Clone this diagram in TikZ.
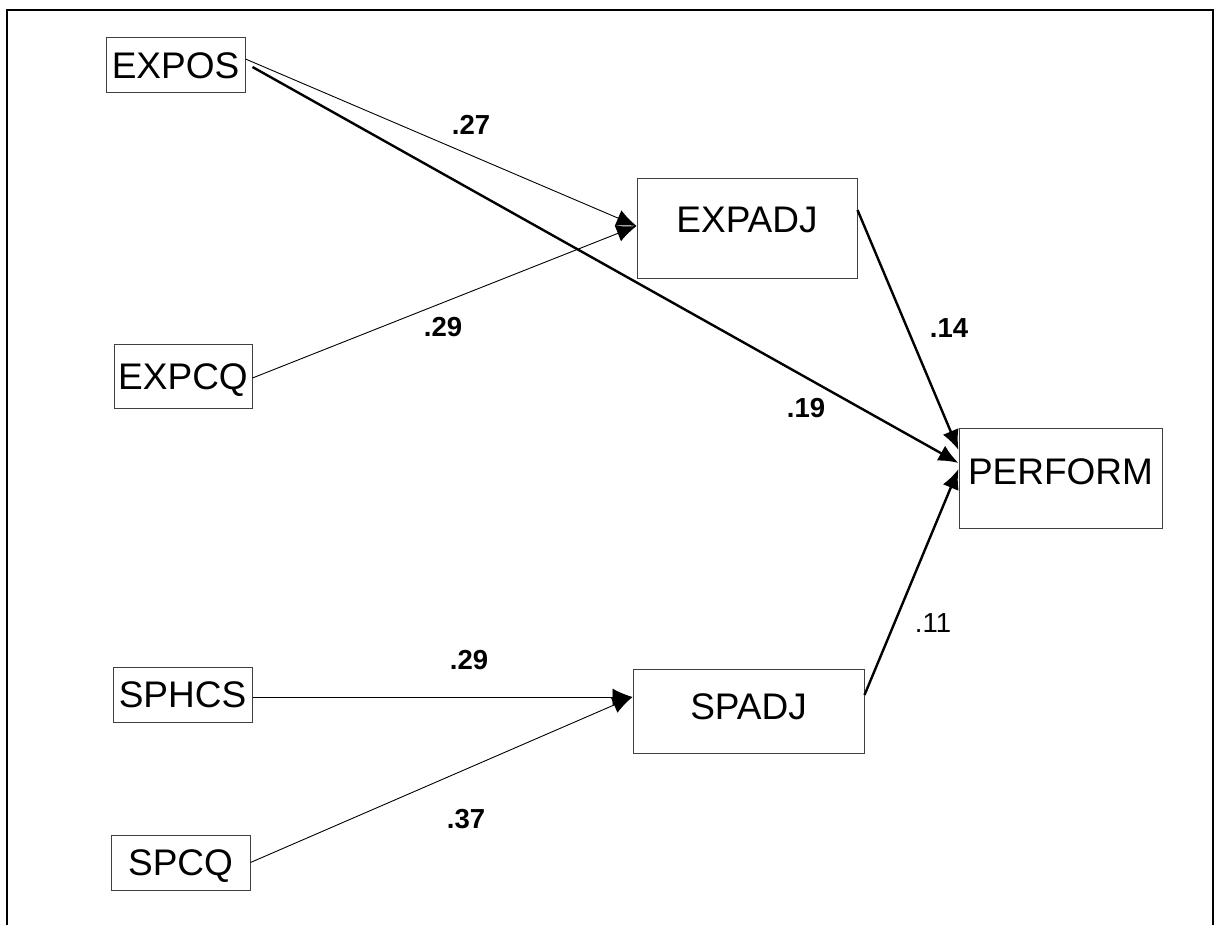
\documentclass[tikz,border=0pt]{standalone}
\usepackage{fontspec}
\setmainfont{Liberation Sans}
\usetikzlibrary{arrows.meta,calc}
\begin{document}
\begin{tikzpicture}[x=1pt,y=-1pt,
  var/.style={draw=black!75, line width=1pt, rectangle, inner sep=0pt,
    text depth=0pt, font=\fontsize{37}{40}\selectfont},
  coef/.style={inner sep=0pt, font=\fontsize{27.5}{30}\selectfont\bfseries},
  coefplain/.style={inner sep=0pt, font=\fontsize{27.5}{30}\selectfont},
  thinpath/.style={line width=0.9pt, -{Latex[length=20pt,width=17pt]}},
  thickpath/.style={line width=2.4pt, -{Latex[length=20pt,width=17pt]}}]
\useasboundingbox (0,0) rectangle (1216,925);

% open frame (no bottom edge)
\draw[line width=2.5pt] (7,925) -- (7,10) -- (1213,10) -- (1213,925);

% variables
\node[var, minimum width=139pt, minimum height=55pt] (expos) at (175.5,65.5) {EXPOS};
\node[var, minimum width=138pt, minimum height=63pt] (expcq) at (183,376.5) {EXPCQ};
\node[var, minimum width=139pt, minimum height=55pt] (sphcs) at (182.5,694.5) {SPHCS};
\node[var, minimum width=139pt, minimum height=55pt] (spcq) at (180.5,862.5) {SPCQ};
\node[var, minimum width=220pt, minimum height=100pt, text depth=18pt] (expadj) at (747,229) {EXPADJ};
\node[var, minimum width=231pt, minimum height=84pt, text depth=9pt] (spadj) at (748.5,711) {SPADJ};
\node[var, minimum width=203pt, minimum height=100pt, text depth=13pt] (perform) at (1060.5,478) {PERFORM};

% paths
\draw[thinpath] ($(expos.east)+(0,-6.5)$) -- ($(expadj.west)+(0,-3)$);
\draw[thinpath] ($(expcq.east)+(0,1.5)$) -- ($(expadj.west)+(0,-3)$);
\draw[thinpath] ($(sphcs.east)+(0,2.5)$) -- ($(spadj.west)+(0,-14)$);
\draw[thinpath] (spcq.east) -- ($(spadj.west)+(0,-14)$);
\draw[thickpath] ($(expos.east)+(7,1.5)$) -- ($(perform.west)+(0,-15)$);
\draw[thickpath] ($(expadj.east)+(0,-19)$) -- ($(perform.west)+(0,-28)$);
\draw[thickpath] ($(spadj.east)+(0,-16)$) -- ($(perform.west)+(0,-9)$);

% path coefficients
\node[coef] (c27) at (471,125) {.27};
\node[coef] (c29a) at (443,327) {.29};
\node[coef] (c19) at (806,408) {.19};
\node[coef] (c14) at (949,328) {.14};
\node[coefplain] (c11) at (933,623) {.11};
\node[coef] (c29b) at (469,660) {.29};
\node[coef] (c37) at (466,819) {.37};
\end{tikzpicture}
\end{document}
